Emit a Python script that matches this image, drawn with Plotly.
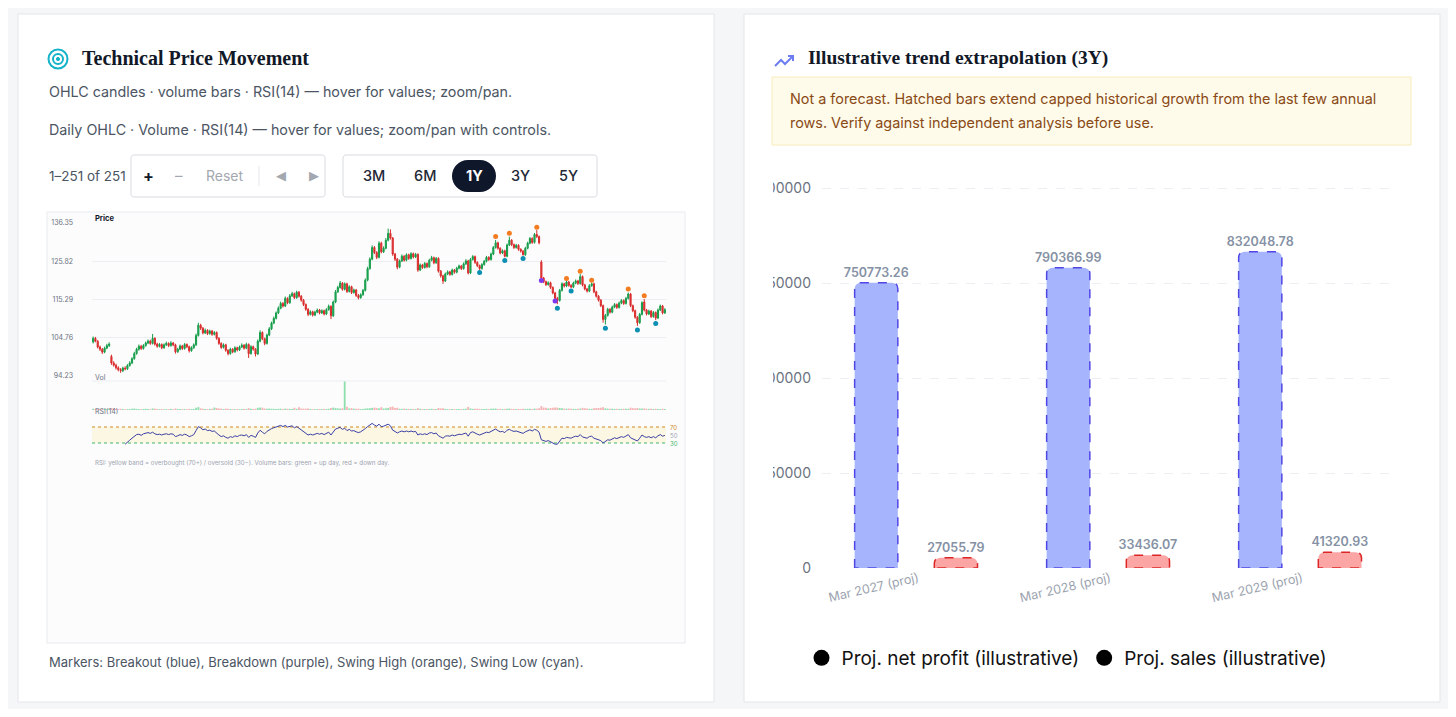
"""
Dashboard snapshot: technical price panel (OHLC / volume / RSI) + illustrative 3Y extrapolation bars.
"""

import plotly.graph_objects as go

W, H = 1456, 717
PAGE_PAD = 8  # default body margin of the html page
FW, FH = W - 2 * PAGE_PAD, H - 2 * PAGE_PAD

# ---------------- left card: daily OHLC, 1Y window ----------------
OPEN = [
    103.6, 104.6, 103.8, 102.2, 101.6, 100.8, 101.9, 102.6, 99.6, 97.8,
    97.2, 96.5, 96.0, 95.7, 96.4, 96.2, 97.1, 97.8, 99.0, 100.4,
    101.6, 102.4, 101.8, 102.6, 103.3, 103.8, 103.2, 104.6, 103.0, 102.4,
    102.9, 102.0, 102.8, 103.2, 102.6, 103.3, 102.8, 100.9, 101.6, 102.5,
    101.8, 102.9, 102.3, 101.2, 102.0, 102.8, 105.4, 108.2, 107.4, 106.1,
    106.8, 105.9, 106.6, 105.7, 106.2, 104.6, 103.2, 102.1, 102.8, 101.3,
    100.4, 101.6, 100.9, 102.0, 101.4, 102.2, 102.7, 101.9, 102.9, 100.4,
    102.3, 101.6, 100.3, 103.8, 106.2, 104.5, 103.2, 105.5, 107.2, 108.8,
    110.1, 111.6, 112.9, 114.2, 113.5, 115.6, 114.4, 116.3, 116.9, 115.8,
    117.3, 116.2, 115.1, 113.9, 112.6, 111.2, 111.9, 111.0, 111.8, 112.4,
    111.6, 112.2, 111.3, 112.5, 113.4, 110.8, 114.6, 117.4, 118.6, 119.8,
    118.1, 119.6, 117.5, 118.8, 117.2, 117.9, 116.4, 115.8, 116.6, 117.8,
    120.6, 123.8, 126.4, 129.6, 128.2, 126.9, 130.8, 128.4, 129.4, 131.6,
    133.5, 132.2, 127.8, 126.4, 124.2, 125.9, 127.2, 126.1, 127.6, 126.6,
    127.9, 127.0, 127.7, 123.4, 124.8, 124.1, 125.2, 124.3, 126.1, 126.8,
    125.4, 126.6, 123.1, 121.8, 120.4, 122.3, 122.9, 122.2, 123.4, 122.8,
    123.9, 124.5, 123.8, 125.1, 125.9, 122.6, 126.3, 127.1, 125.5, 124.6,
    123.8, 124.9, 125.8, 126.9, 126.3, 127.8, 129.6, 130.9, 129.4, 128.1,
    128.7, 127.2, 130.3, 131.6, 130.4, 129.6, 130.2, 129.1, 128.6, 127.6,
    129.4, 130.8, 132.1, 131.0, 133.2, 132.6, 125.6, 121.2, 120.2, 119.4,
    119.9, 118.6, 117.1, 115.6, 115.0, 117.8, 119.6, 119.0, 120.1, 119.2,
    118.7, 119.8, 120.4, 119.7, 121.6, 119.3, 118.2, 117.6, 119.1, 119.6,
    117.4, 116.2, 115.1, 113.6, 109.8, 110.9, 112.6, 111.8, 113.2, 113.9,
    113.1, 114.3, 115.0, 114.2, 115.6, 116.8, 113.6, 112.2, 110.4, 108.9,
    111.2, 114.6, 112.4, 111.3, 112.1, 110.6, 111.7, 110.2, 112.4, 113.5,
    111.6,
]
HIGH = [
    105.1, 105.0, 104.1, 102.6, 101.9, 102.3, 103.1, 103.5, 100.1, 98.3,
    97.6, 96.9, 96.4, 96.8, 96.9, 97.5, 98.3, 99.4, 100.9, 102.0,
    102.9, 102.8, 103.0, 103.7, 104.3, 104.2, 105.8, 104.9, 103.4, 103.3,
    103.2, 103.2, 103.7, 103.5, 103.8, 103.6, 103.1, 102.0, 102.9, 102.8,
    103.3, 103.2, 102.6, 102.4, 103.2, 105.9, 108.9, 108.6, 107.7, 107.3,
    107.1, 107.0, 106.9, 106.6, 106.5, 104.9, 103.5, 103.2, 103.1, 101.6,
    102.0, 101.9, 102.4, 102.3, 102.6, 103.2, 103.0, 103.4, 103.2, 102.7,
    102.6, 101.9, 104.3, 106.8, 106.5, 104.8, 105.9, 107.7, 109.2, 110.6,
    112.0, 113.4, 114.7, 114.6, 116.1, 115.9, 116.8, 117.4, 117.2, 117.7,
    117.6, 116.5, 115.4, 114.2, 112.9, 112.3, 112.2, 112.2, 112.8, 112.7,
    112.6, 112.5, 112.9, 113.9, 113.7, 115.0, 117.9, 119.1, 120.4, 120.1,
    120.0, 119.9, 119.2, 119.1, 118.3, 118.2, 116.8, 117.0, 118.2, 121.1,
    124.3, 126.9, 130.2, 130.0, 128.6, 131.3, 131.2, 129.9, 132.2, 134.8,
    134.6, 132.5, 128.1, 126.7, 126.3, 127.7, 127.5, 128.0, 127.9, 128.3,
    128.2, 128.1, 128.0, 125.2, 125.1, 125.6, 125.5, 126.5, 127.3, 127.1,
    127.0, 126.9, 123.4, 122.1, 122.7, 123.3, 123.2, 123.8, 123.7, 124.3,
    124.9, 124.8, 125.5, 126.4, 126.2, 126.7, 127.5, 127.4, 125.8, 124.9,
    125.3, 126.2, 127.3, 127.2, 128.2, 130.0, 131.7, 131.2, 129.7, 129.1,
    129.0, 130.7, 132.6, 131.9, 130.7, 130.6, 130.5, 129.4, 128.9, 129.8,
    131.2, 132.5, 132.4, 133.6, 134.4, 132.9, 126.1, 121.5, 120.5, 120.3,
    120.2, 118.9, 117.4, 116.0, 118.2, 120.0, 119.9, 120.5, 120.4, 119.5,
    120.2, 120.8, 120.7, 122.3, 121.9, 119.6, 118.5, 119.5, 119.9, 119.9,
    117.7, 116.5, 115.4, 113.9, 111.3, 113.0, 112.9, 113.6, 114.3, 114.2,
    114.7, 115.4, 115.3, 116.0, 117.2, 117.1, 113.9, 112.5, 110.7, 111.6,
    114.8, 115.4, 112.7, 112.5, 112.4, 112.1, 112.0, 112.8, 113.9, 113.8,
    112.9,
]
LOW = [
    103.2, 103.5, 101.8, 101.1, 100.3, 100.5, 101.6, 102.2, 97.3, 96.8,
    96.0, 95.5, 95.1, 95.3, 95.8, 95.9, 96.8, 97.5, 98.7, 100.1,
    101.2, 101.4, 101.5, 102.3, 103.0, 102.8, 102.9, 102.6, 102.0, 102.1,
    101.6, 101.7, 102.5, 102.2, 102.3, 102.4, 100.4, 100.6, 101.3, 101.4,
    101.5, 101.9, 100.7, 100.9, 101.7, 102.5, 105.1, 106.9, 105.7, 105.8,
    105.5, 105.6, 105.3, 105.4, 104.2, 102.8, 101.7, 101.8, 100.9, 99.9,
    100.1, 100.5, 100.6, 101.0, 101.1, 101.9, 101.5, 101.6, 99.2, 100.1,
    101.2, 99.6, 100.0, 103.5, 104.1, 102.7, 102.9, 105.2, 106.9, 108.5,
    109.8, 111.3, 112.6, 113.1, 113.2, 114.0, 114.1, 116.0, 115.4, 115.5,
    115.8, 114.7, 113.5, 112.2, 110.7, 110.9, 110.6, 110.7, 111.5, 111.2,
    111.3, 110.9, 111.0, 112.2, 109.9, 110.5, 114.3, 117.1, 118.3, 117.7,
    117.8, 117.1, 117.2, 116.8, 116.9, 116.0, 115.3, 115.5, 116.3, 117.5,
    120.3, 123.5, 126.1, 127.8, 126.4, 126.6, 128.0, 128.1, 129.1, 131.3,
    131.8, 127.3, 125.9, 123.6, 123.9, 125.6, 125.7, 125.8, 126.2, 126.3,
    126.6, 126.7, 122.9, 123.1, 123.7, 123.8, 123.9, 124.0, 125.8, 125.0,
    125.1, 122.7, 121.3, 119.6, 120.1, 122.0, 121.8, 121.9, 122.4, 122.5,
    123.6, 123.4, 123.5, 124.8, 122.2, 122.3, 126.0, 125.1, 124.2, 123.4,
    123.5, 124.6, 125.5, 125.9, 126.0, 127.5, 129.3, 129.0, 127.7, 127.8,
    126.9, 126.9, 130.0, 130.0, 129.2, 129.3, 128.7, 128.2, 127.4, 127.3,
    129.1, 130.5, 130.6, 130.7, 132.2, 130.5, 120.8, 119.8, 119.0, 119.1,
    118.2, 116.7, 115.2, 114.0, 114.7, 117.5, 118.6, 118.7, 118.8, 118.4,
    118.4, 119.5, 119.3, 119.4, 118.9, 117.8, 117.2, 117.3, 118.8, 117.0,
    115.8, 114.7, 113.2, 108.9, 108.4, 110.6, 111.4, 111.5, 112.9, 112.7,
    112.8, 114.0, 113.8, 113.9, 115.3, 113.2, 111.8, 110.0, 108.0, 108.6,
    110.9, 112.0, 110.9, 111.0, 110.2, 110.3, 109.6, 109.9, 112.1, 111.2,
    111.3,
]
CLOSE = [
    104.6, 103.8, 102.2, 101.6, 100.8, 101.9, 102.6, 103.0, 97.8, 97.2,
    96.5, 96.0, 95.7, 96.4, 96.2, 97.1, 97.8, 99.0, 100.4, 101.6,
    102.4, 101.8, 102.6, 103.3, 103.8, 103.2, 104.6, 103.0, 102.4, 102.9,
    102.0, 102.8, 103.2, 102.6, 103.3, 102.8, 100.9, 101.6, 102.5, 101.8,
    102.9, 102.3, 101.2, 102.0, 102.8, 105.4, 108.2, 107.4, 106.1, 106.8,
    105.9, 106.6, 105.7, 106.2, 104.6, 103.2, 102.1, 102.8, 101.3, 100.4,
    101.6, 100.9, 102.0, 101.4, 102.2, 102.7, 101.9, 102.9, 100.4, 102.3,
    101.6, 100.3, 103.8, 106.2, 104.5, 103.2, 105.5, 107.2, 108.8, 110.1,
    111.6, 112.9, 114.2, 113.5, 115.6, 114.4, 116.3, 116.9, 115.8, 117.3,
    116.2, 115.1, 113.9, 112.6, 111.2, 111.9, 111.0, 111.8, 112.4, 111.6,
    112.2, 111.3, 112.5, 113.4, 110.8, 114.6, 117.4, 118.6, 119.8, 118.1,
    119.6, 117.5, 118.8, 117.2, 117.9, 116.4, 115.8, 116.6, 117.8, 120.6,
    123.8, 126.4, 129.6, 128.2, 126.9, 130.8, 128.4, 129.4, 131.6, 133.5,
    132.2, 127.8, 126.4, 124.2, 125.9, 127.2, 126.1, 127.6, 126.6, 127.9,
    127.0, 127.7, 123.4, 124.8, 124.1, 125.2, 124.3, 126.1, 126.8, 125.4,
    126.6, 123.1, 121.8, 120.4, 122.3, 122.9, 122.2, 123.4, 122.8, 123.9,
    124.5, 123.8, 125.1, 125.9, 122.6, 126.3, 127.1, 125.5, 124.6, 123.8,
    124.9, 125.8, 126.9, 126.3, 127.8, 129.6, 130.9, 129.4, 128.1, 128.7,
    127.2, 130.3, 131.6, 130.4, 129.6, 130.2, 129.1, 128.6, 127.6, 129.4,
    130.8, 132.1, 131.0, 133.2, 132.6, 130.9, 121.2, 120.2, 119.4, 119.9,
    118.6, 117.1, 115.6, 115.0, 117.8, 119.6, 119.0, 120.1, 119.2, 118.7,
    119.8, 120.4, 119.7, 121.6, 119.3, 118.2, 117.6, 119.1, 119.6, 117.4,
    116.2, 115.1, 113.6, 109.8, 110.9, 112.6, 111.8, 113.2, 113.9, 113.1,
    114.3, 115.0, 114.2, 115.6, 116.8, 113.6, 112.2, 110.4, 108.9, 111.2,
    114.4, 112.4, 111.3, 112.1, 110.6, 111.7, 110.2, 112.4, 113.5, 111.6,
    112.5,
]
# volume in millions of shares
VOLUME = [
    1.4, 1.1, 1.3, 0.9, 1.0, 1.2, 0.8, 0.9, 2.1, 1.5,
    1.2, 1.0, 1.3, 1.1, 0.8, 0.9, 1.0, 1.4, 1.6, 1.2,
    1.0, 0.9, 1.1, 1.3, 1.0, 0.8, 1.7, 1.5, 1.0, 0.9,
    1.1, 0.9, 0.8, 1.0, 1.2, 0.9, 1.6, 1.1, 1.0, 0.9,
    1.0, 0.8, 1.2, 1.0, 1.1, 2.4, 3.1, 1.8, 1.4, 1.1,
    1.0, 1.2, 1.3, 2.6, 2.2, 1.7, 1.4, 1.0, 1.5, 1.3,
    1.1, 1.0, 0.9, 1.0, 0.8, 1.1, 1.2, 1.0, 2.0, 1.4,
    1.1, 1.3, 2.3, 2.8, 2.5, 1.6, 1.4, 1.5, 1.3, 1.2,
    1.1, 1.3, 1.4, 1.2, 1.5, 1.3, 1.2, 1.1, 2.4, 1.3,
    2.9, 1.6, 1.5, 1.4, 1.7, 1.1, 1.0, 0.9, 1.0, 1.1,
    1.0, 1.2, 1.1, 1.4, 2.2, 2.6, 2.0, 1.7, 1.5, 1.9,
    30.5, 3.4, 1.6, 2.1, 1.4, 1.3, 1.5, 1.1, 1.2, 1.6,
    1.8, 1.9, 2.3, 2.6, 2.1, 1.9, 3.0, 1.6, 1.8, 2.2,
    3.2, 3.6, 2.2, 2.4, 1.3, 1.2, 1.5, 1.3, 1.2, 1.1,
    1.2, 1.0, 2.0, 1.3, 1.1, 1.0, 1.1, 1.2, 1.3, 1.1,
    1.0, 2.2, 1.7, 1.9, 1.2, 1.0, 0.9, 1.1, 1.0, 1.0,
    1.1, 1.0, 1.2, 1.3, 3.3, 1.7, 1.2, 1.3, 1.4, 1.2,
    1.0, 1.1, 1.2, 1.0, 1.3, 1.5, 1.6, 1.2, 1.3, 1.0,
    1.2, 1.4, 1.6, 1.2, 1.1, 1.0, 1.2, 1.1, 1.3, 1.2,
    1.3, 1.4, 1.1, 1.6, 1.4, 1.9, 4.2, 2.6, 2.3, 1.7,
    2.1, 2.4, 2.8, 2.5, 2.2, 1.8, 1.5, 1.4, 1.6, 1.3,
    1.2, 1.1, 1.3, 1.5, 2.3, 1.9, 1.6, 1.3, 1.2, 2.0,
    2.1, 2.2, 2.4, 3.0, 1.8, 1.5, 1.3, 1.4, 1.2, 1.3,
    1.1, 1.2, 1.3, 1.4, 1.3, 2.5, 2.0, 1.8, 2.1, 1.6,
    1.5, 1.7, 1.3, 1.2, 1.4, 1.1, 1.3, 1.2, 1.0, 1.3,
    1.1,
]
RSI_START = 14
RSI = [
    27, 33, 37, 42, 47, 51, 52, 49, 53, 55,
    56, 54, 57, 53, 51, 52, 50, 52, 53, 51,
    53, 52, 46, 48, 51, 49, 52, 50, 46, 48,
    51, 61, 71, 68, 63, 65, 61, 62, 59, 60,
    54, 50, 46, 48, 44, 42, 46, 44, 48, 46,
    49, 50, 48, 51, 44, 49, 47, 44, 55, 62,
    57, 53, 59, 63, 66, 68, 70, 72, 74, 71,
    74, 70, 72, 73, 68, 71, 67, 63, 58, 54,
    50, 52, 50, 52, 54, 52, 54, 51, 55, 57,
    50, 59, 65, 67, 69, 64, 67, 61, 64, 60,
    61, 58, 56, 58, 61, 66, 71, 75, 79, 75,
    72, 77, 71, 72, 75, 77, 73, 62, 59, 55,
    58, 60, 58, 60, 58, 60, 58, 59, 50, 53,
    51, 53, 51, 55, 56, 53, 55, 48, 45, 42,
    47, 48, 47, 50, 48, 51, 52, 51, 54, 55,
    47, 56, 58, 54, 52, 50, 53, 55, 57, 56,
    59, 62, 65, 61, 58, 59, 56, 62, 64, 61,
    59, 60, 58, 56, 54, 58, 60, 63, 60, 64,
    62, 57, 38, 36, 34, 36, 33, 30, 27, 27,
    36, 42, 41, 44, 43, 42, 45, 47, 46, 51,
    45, 43, 42, 46, 47, 42, 40, 38, 36, 30,
    33, 38, 37, 41, 43, 41, 44, 46, 44, 48,
    51, 43, 40, 37, 35, 42, 50, 46, 44, 46,
    43, 46, 43, 48, 51, 47, 49,
]
RSI_LEVELS = [70, 50, 30]
RSI_LEVEL_COLORS = ["#d08a1a", "#9ca3af", "#3fb56a"]
PRICE_TICKS = [94.23, 104.76, 115.29, 125.82, 136.35]

SWING_HIGH_IDX = [176, 182, 194, 207, 213, 218, 234, 241]
SWING_HIGH_Y = [132.6, 133.5, 135.2, 121.1, 123.1, 120.6, 118.2, 116.3]
SWING_LOW_IDX = [169, 180, 188, 203, 209, 224, 238, 246]
SWING_LOW_Y = [122.7, 126.0, 126.6, 112.9, 117.6, 107.4, 106.9, 108.7]
BREAKDOWN_IDX = [196, 202]
BREAKDOWN_Y = [120.5, 114.9]

RANGES = ["3M", "6M", "1Y", "3Y", "5Y"]
ACTIVE_RANGE = "1Y"

# ---------------- right card: illustrative extrapolation ----------------
PROJ_CATS = ["Mar 2027 (proj)", "Mar 2028 (proj)", "Mar 2029 (proj)"]
NET_PROFIT = [750773.26, 790366.99, 832048.78]
SALES = [27055.79, 33436.07, 41320.93]
VALUE_TICKS = [0, 250000, 500000, 750000, 1000000]
VALUE_MAX = 1050000

assert len(OPEN) == len(HIGH) == len(LOW) == len(CLOSE) == len(VOLUME)
assert len(RSI) == len(CLOSE) - RSI_START
N = len(CLOSE)
days = list(range(N))


# screen pixel -> paper fraction (the page adds an 8px margin around the figure)
def fx(x):
    return (x - PAGE_PAD) / FW


def fy(y):
    return 1 - (y - PAGE_PAD) / FH


shapes = []
annotations = []


def rect(x0, y0, x1, y1, fill, line="rgba(0,0,0,0)", width=1, layer="below"):
    shapes.append(dict(type="rect", xref="paper", yref="paper",
                       x0=fx(x0), x1=fx(x1), y0=fy(y1), y1=fy(y0),
                       fillcolor=fill, line=dict(color=line, width=width), layer=layer))


def rounded(x0, y0, x1, y1, r, fill, line="rgba(0,0,0,0)", width=1):
    k = 0.5523 * r
    pts = [("M", [(x0 + r, y0)]), ("L", [(x1 - r, y0)]),
           ("C", [(x1 - r + k, y0), (x1, y0 + r - k), (x1, y0 + r)]), ("L", [(x1, y1 - r)]),
           ("C", [(x1, y1 - r + k), (x1 - r + k, y1), (x1 - r, y1)]), ("L", [(x0 + r, y1)]),
           ("C", [(x0 + r - k, y1), (x0, y1 - r + k), (x0, y1 - r)]), ("L", [(x0, y0 + r)]),
           ("C", [(x0, y0 + r - k), (x0 + r - k, y0), (x0 + r, y0)])]
    d = " ".join(c + " " + " ".join(f"{fx(a):.5f},{fy(b):.5f}" for a, b in p) for c, p in pts) + " Z"
    shapes.append(dict(type="path", xref="paper", yref="paper", path=d,
                       fillcolor=fill, line=dict(color=line, width=width), layer="below"))


def circle(cx, cy, r, line, width=2, fill="rgba(0,0,0,0)"):
    shapes.append(dict(type="circle", xref="paper", yref="paper",
                       x0=fx(cx - r), x1=fx(cx + r), y0=fy(cy + r), y1=fy(cy - r),
                       fillcolor=fill, line=dict(color=line, width=width), layer="below"))


def polyline(pts, color, width=2):
    d = "M " + " L ".join(f"{fx(a):.5f},{fy(b):.5f}" for a, b in pts)
    shapes.append(dict(type="path", xref="paper", yref="paper", path=d,
                       line=dict(color=color, width=width), layer="below"))


def label(x, y, s, size=14, color="#4b5563", anchor="left", family="Inter", weight="normal"):
    annotations.append(dict(xref="paper", yref="paper", x=fx(x), y=fy(y), text=s,
                            showarrow=False, xanchor=anchor, yanchor="middle",
                            font=dict(family=family, size=size, color=color, weight=weight)))


SERIF = "Liberation Serif"

# cards
rect(18, 14, 714, 702, "#ffffff", "#e3e6ea")
rect(744, 14, 1440, 702, "#ffffff", "#e3e6ea")

# ----- left card header -----
circle(58, 59, 9.5, "#14b3c9", 2)
circle(58, 59, 5, "#14b3c9", 2)
circle(58, 59, 1.6, "#14b3c9", 1, "#14b3c9")
label(80, 58, "Technical Price Movement", 20, "#111827", family=SERIF, weight="bold")
label(47, 91, "OHLC candles · volume bars · RSI(14) — hover for values; zoom/pan.", 14.3)
label(47, 129, "Daily OHLC · Volume · RSI(14) — hover for values; zoom/pan with controls.", 14.3)
label(47, 176, f"1–{N} of {N}", 13.5)

# zoom / pan controls
rounded(131, 155, 325, 197, 3, "#ffffff", "#d7dbe0")
shapes.append(dict(type="line", xref="paper", yref="paper", x0=fx(259), x1=fx(259),
                   y0=fy(166), y1=fy(186), line=dict(color="#e5e7eb", width=1), layer="below"))
label(148, 176, "+", 16, "#111827", anchor="center", weight="bold")
label(179, 176, "–", 15, "#a3a8b0", anchor="center")
label(225, 176, "Reset", 14, "#a3a8b0", anchor="center")
label(281, 176, "◀", 13, "#a3a8b0", anchor="center", family="DejaVu Sans")
label(314, 176, "▶", 13, "#a3a8b0", anchor="center", family="DejaVu Sans")

# range selector
rounded(343, 155, 597, 197, 3, "#ffffff", "#d7dbe0")
range_x = [374, 425, 474, 520, 568]
for rx, r in zip(range_x, RANGES):
    if r == ACTIVE_RANGE:
        rounded(rx - 22, 160, rx + 22, 192, 16, "#0f172a")
        label(rx, 176, r, 14.5, "#ffffff", anchor="center", weight="bold")
    else:
        label(rx, 176, r, 14.5, "#1f2937", anchor="center", weight=500)

# chart panel
rect(47, 212, 685, 643, "#fcfcfd", "#e8eaee")
label(93, 219, "Price", 7.5, "#111827", weight="bold")
label(93, 377, "Vol", 7, "#6b7280")
label(93, 411, "RSI(14)", 7, "#6b7280")
label(93, 463, "RSI: yellow band = overbought (70+) / oversold (30−). Volume bars: green = up day, red = down day.",
      6.2, "#9ca3af")
label(47, 662, "Markers: Breakout (blue), Breakdown (purple), Swing High (orange), Swing Low (cyan).", 13)

# volume top rule
shapes.append(dict(type="line", xref="x domain", yref="y2 domain", x0=0, x1=1, y0=1, y1=1,
                   line=dict(color="#eceef2", width=1), layer="below"))
# RSI band and levels
shapes.append(dict(type="rect", xref="x domain", yref="y3", x0=0, x1=1,
                   y0=RSI_LEVELS[-1], y1=RSI_LEVELS[0], fillcolor="rgba(253,230,120,0.2)",
                   line=dict(width=0), layer="below"))
for lv, c in zip(RSI_LEVELS, RSI_LEVEL_COLORS):
    if lv != 50:
        shapes.append(dict(type="line", xref="x domain", yref="y3", x0=0, x1=1, y0=lv, y1=lv,
                           line=dict(color=c, width=1, dash="dot"), layer="below"))
    annotations.append(dict(xref="x domain", yref="y3", x=1.004, y=lv, text=str(lv), showarrow=False,
                            xanchor="left", yanchor="middle", font=dict(size=6, color=c)))

# ----- right card header -----
polyline([(775, 66), (781, 60), (785, 64), (793, 56)], "#6e7cf2", 2)
polyline([(788, 56), (793, 56), (793, 61)], "#6e7cf2", 2)
label(806, 58, "Illustrative trend extrapolation (3Y)", 19.5, "#111827", family=SERIF, weight="bold")
rect(772, 77, 1411, 145, "#fefbea", "#f8ecbc")
label(788, 99, "Not a forecast. Hatched bars extend capped historical growth from the last few annual",
      14.4, "#8a4a16")
label(788, 123, "rows. Verify against independent analysis before use.", 14.4, "#8a4a16")

fig = go.Figure()

# ----- price / volume / RSI -----
fig.add_trace(go.Candlestick(
    x=days, open=OPEN, high=HIGH, low=LOW, close=CLOSE, name="Price",
    increasing=dict(line=dict(color="#169c4a", width=1), fillcolor="#22b45a"),
    decreasing=dict(line=dict(color="#d92b2b", width=1), fillcolor="#e53e3e"),
    whiskerwidth=0, xaxis="x", yaxis="y", showlegend=False))

fig.add_trace(go.Scatter(x=SWING_HIGH_IDX, y=SWING_HIGH_Y, mode="markers", name="Swing High",
                         marker=dict(color="#f47c20", size=5), xaxis="x", yaxis="y", showlegend=False))
fig.add_trace(go.Scatter(x=SWING_LOW_IDX, y=SWING_LOW_Y, mode="markers", name="Swing Low",
                         marker=dict(color="#0b8fb3", size=5), xaxis="x", yaxis="y", showlegend=False))
fig.add_trace(go.Scatter(x=BREAKDOWN_IDX, y=BREAKDOWN_Y, mode="markers", name="Breakdown",
                         marker=dict(color="#7c3aed", size=5), xaxis="x", yaxis="y", showlegend=False))

vol_colors = ["rgba(52,199,110,0.55)" if c >= o else "rgba(239,90,90,0.45)" for o, c in zip(OPEN, CLOSE)]
fig.add_trace(go.Bar(x=days, y=VOLUME, marker=dict(color=vol_colors, line=dict(width=0)),
                     name="Volume", xaxis="x", yaxis="y2", showlegend=False))

fig.add_trace(go.Scatter(x=days[RSI_START:], y=RSI, mode="lines", name="RSI(14)",
                         line=dict(color="#3a3fa6", width=1), xaxis="x", yaxis="y3", showlegend=False))

# ----- projection bars -----
BAR_W = 0.225
cats = list(range(len(PROJ_CATS)))
bar_sets = [
    (NET_PROFIT, -0.33, "#a5b4fc", "#4f46e5"),
    (SALES, 0.085, "#fca5a5", "#dc2626"),
]
for vals, off, fill, edge in bar_sets:
    fig.add_trace(go.Bar(
        x=cats, y=vals, width=BAR_W, offset=off,
        marker=dict(color=fill, cornerradius=6, line=dict(width=0)),
        texttemplate="%{y:.2f}", textposition="outside", constraintext="none",
        textfont=dict(family="Inter", size=12.5, color="#8591a4", weight=600),
        cliponaxis=False, xaxis="x4", yaxis="y4", showlegend=False))
    rx = 6 * 3 / 576
    ry = 6 * VALUE_MAX / 399
    for i, v in zip(cats, vals):
        a = i + off
        b = a + BAR_W
        d = (f"M {a},0 L {a},{v - ry} Q {a},{v} {a + rx},{v} L {b - rx},{v} "
             f"Q {b},{v} {b},{v - ry} L {b},0 Z")
        shapes.append(dict(type="path", xref="x4", yref="y4", path=d,
                           line=dict(color=edge, width=1.5, dash="dash"), layer="above"))

for nm in ["Proj. net profit (illustrative)", "Proj. sales (illustrative)"]:
    fig.add_trace(go.Scatter(x=[None], y=[None], mode="markers", name=nm,
                             marker=dict(color="#000000", size=16), xaxis="x4", yaxis="y4"))

# y labels of the projection chart are cut at the container edge
rect(745, 165, 773, 600, "#ffffff", layer="above", width=0)

fig.update_layout(
    width=FW, height=FH,
    margin=dict(l=0, r=0, t=0, b=0, autoexpand=False),
    paper_bgcolor="#f5f6f8",
    plot_bgcolor="rgba(0,0,0,0)",
    font=dict(family="Inter", color="#374151"),
    barmode="overlay",
    bargap=0.2,
    shapes=shapes,
    annotations=annotations,
    xaxis=dict(domain=[fx(92), fx(666)], range=[-0.5, N - 0.5], anchor="y",
               showticklabels=False, showgrid=False, zeroline=False, showline=False,
               rangeslider=dict(visible=False), ticks="", automargin=False),
    yaxis=dict(domain=[fy(376), fy(223)], range=[PRICE_TICKS[0], PRICE_TICKS[-1]], anchor="x",
               tickvals=PRICE_TICKS, ticktext=[f"{t:.2f}" for t in PRICE_TICKS],
               tickfont=dict(size=7, color="#6b7280"), gridcolor="#eceef2",
               zeroline=False, showline=False, ticks="", ticklabelstandoff=18, automargin=False),
    yaxis2=dict(domain=[fy(410), fy(381)], range=[0, max(VOLUME) * 1.02], anchor="x",
                showticklabels=False, showgrid=False, zeroline=False, automargin=False),
    yaxis3=dict(domain=[fy(455), fy(415)], range=[0, 100], anchor="x",
                showticklabels=False, showgrid=False, zeroline=False, automargin=False),
    xaxis4=dict(domain=[fx(822), fx(1398)], range=[-0.5, len(PROJ_CATS) - 0.5], anchor="y4",
                tickvals=cats, ticktext=PROJ_CATS, tickangle=-13,
                tickfont=dict(size=12.5, color="#9ca3af"), showgrid=False, zeroline=False,
                showline=False, ticks="", automargin=False),
    yaxis4=dict(domain=[fy(568), fy(169)], range=[0, VALUE_MAX], anchor="x4",
                tickvals=VALUE_TICKS, tickformat="d", tickfont=dict(size=14, color="#6b7280"),
                gridcolor="#eceef2", griddash="dash", zeroline=False, showline=False,
                ticks="", ticklabelstandoff=10, automargin=False),
    legend=dict(orientation="h", x=fx(1067), xanchor="center", y=fy(658), yanchor="middle",
                font=dict(family="Inter", size=19, color="#111111"), bgcolor="rgba(0,0,0,0)",
                itemclick=False),
)

fig.write_html("out.html")
